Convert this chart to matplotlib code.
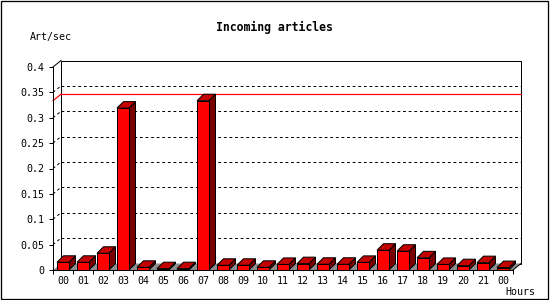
import matplotlib
matplotlib.use("Agg")
import matplotlib.pyplot as plt
from matplotlib.patches import Polygon, Rectangle
import numpy as np

# ---- data ----
hour_labels = ["00", "01", "02", "03", "04", "05", "06", "07", "08", "09", "10", "11",
               "12", "13", "14", "15", "16", "17", "18", "19", "20", "21", "00"]
art_per_sec = [0.0152, 0.0152, 0.033, 0.319, 0.0053, 0.0026, 0.0026, 0.3335, 0.0093, 0.0093,
               0.0053, 0.011, 0.0125, 0.0113, 0.0113, 0.015, 0.039, 0.037, 0.024, 0.011,
               0.0085, 0.0145, 0.0048]
max_rate = 0.3335
y_ticks = [0, 0.05, 0.1, 0.15, 0.2, 0.25, 0.3, 0.35, 0.4]
y_tick_labels = ["0", "0.05", "0.1", "0.15", "0.2", "0.25", "0.3", "0.35", "0.4"]
grid_levels = [0.05, 0.1, 0.15, 0.2, 0.25, 0.3, 0.35]
title = "Incoming articles"
y_unit = "Art/sec"
x_unit = "Hours"

# ---- figure / geometry ----
W, H = 550, 300
fig = plt.figure(figsize=(W / 100, H / 100), dpi=100)
fig.patch.set_facecolor("white")
ax_l, ax_r, ax_t, ax_b = 53, 513, 67, 270  # front plane in pixels
ax = fig.add_axes([ax_l / W, 1 - ax_b / H, (ax_r - ax_l) / W, (ax_b - ax_t) / H])
n = len(art_per_sec)
ax.set_xlim(0, n)
ax.set_ylim(0, 0.4)
ax.set_facecolor("none")

px_x = n / (ax_r - ax_l)          # data units per pixel (x)
px_y = 0.4 / (ax_b - ax_t)        # data units per pixel (y)
pdx, pdy = 8 * px_x, 6.5 * px_y   # plane depth
bdx, bdy = 6.5 * px_x, 6.5 * px_y # bar depth

LW = 0.72
mono = "DejaVu Sans Mono"

# back plane
back = Rectangle((pdx, pdy), n, 0.4, facecolor="white", edgecolor="black",
                 linewidth=LW, zorder=1, clip_on=False)
ax.add_patch(back)

# grid lines (back plane + left wall)
for g in grid_levels:
    ax.plot([pdx, n + pdx], [g + pdy, g + pdy], color="black", lw=LW,
            linestyle=(0, (2.8, 2.8)), zorder=2, clip_on=False)
    ax.plot([0, pdx], [g, g + pdy], color="black", lw=LW,
            linestyle=(0, (2.8, 2.8)), zorder=2, clip_on=False)

# max line
ax.plot([pdx, n + pdx], [max_rate + pdy, max_rate + pdy], color="red", lw=LW * 1.2,
        zorder=3, clip_on=False)
ax.plot([0, pdx], [max_rate, max_rate + pdy], color="red", lw=LW * 1.2,
        zorder=3, clip_on=False)

# left wall top edge
ax.plot([0, pdx], [0.4, 0.4 + pdy], color="black", lw=LW, zorder=3, clip_on=False)

# floor
floor = Polygon([(0, 0), (n, 0), (n + pdx, pdy), (pdx, pdy)], closed=True,
                facecolor="#8e8e8e", edgecolor="none", zorder=3, clip_on=False)
ax.add_patch(floor)
ax.plot([n, n + pdx], [0, pdy], color="black", lw=LW, zorder=3.5, clip_on=False)

# bars
centers = np.arange(n) + 0.5
bw = 0.6
for c, h in zip(centers, art_per_sec):
    x0, x1 = c - bw / 2, c + bw / 2
    side = Polygon([(x1, 0), (x1 + bdx, bdy), (x1 + bdx, h + bdy), (x1, h)], closed=True,
                   facecolor="#7a0000", edgecolor="black", linewidth=LW, zorder=4,
                   clip_on=False)
    top = Polygon([(x0, h), (x1, h), (x1 + bdx, h + bdy), (x0 + bdx, h + bdy)], closed=True,
                  facecolor="#c40000", edgecolor="black", linewidth=LW, zorder=4,
                  clip_on=False)
    ax.add_patch(side)
    ax.add_patch(top)
ax.bar(centers, art_per_sec, width=bw, color="#ff0000", edgecolor="black",
       linewidth=LW, zorder=5, clip_on=False)

# axes
for s in ["top", "right"]:
    ax.spines[s].set_visible(False)
for s in ["left", "bottom"]:
    ax.spines[s].set_linewidth(LW)
    ax.spines[s].set_zorder(6)

ax.set_yticks(y_ticks)
ax.set_yticklabels(y_tick_labels, fontfamily=mono, fontsize=7.2)
ax.tick_params(axis="y", direction="out", length=3, width=LW, pad=3.5)

ax.set_xticks(np.arange(n + 1))
ax.set_xticklabels([])
ax.set_xticks(centers, minor=True)
ax.set_xticklabels(hour_labels, minor=True, fontfamily=mono, fontsize=7.2)
ax.tick_params(axis="x", which="major", direction="out", length=3, width=LW)
ax.tick_params(axis="x", which="minor", length=0, pad=4.5)

# texts
fig.text(274 / W, 1 - 27 / H, title, ha="center", va="center", fontfamily=mono,
         fontweight="bold", fontsize=8.3)
fig.text(30 / W, 1 - 37 / H, y_unit, ha="left", va="center", fontfamily=mono, fontsize=7.2)
fig.text(505 / W, 1 - 292 / H, x_unit, ha="left", va="center", fontfamily=mono, fontsize=7.2)

# outer border
fig.add_artist(Rectangle((0.5 / W, 1.5 / H), 547.5 / W, 298 / H, transform=fig.transFigure,
                         fill=False, edgecolor="black", linewidth=LW * 1.3))

fig.savefig("out.png", dpi=100)
